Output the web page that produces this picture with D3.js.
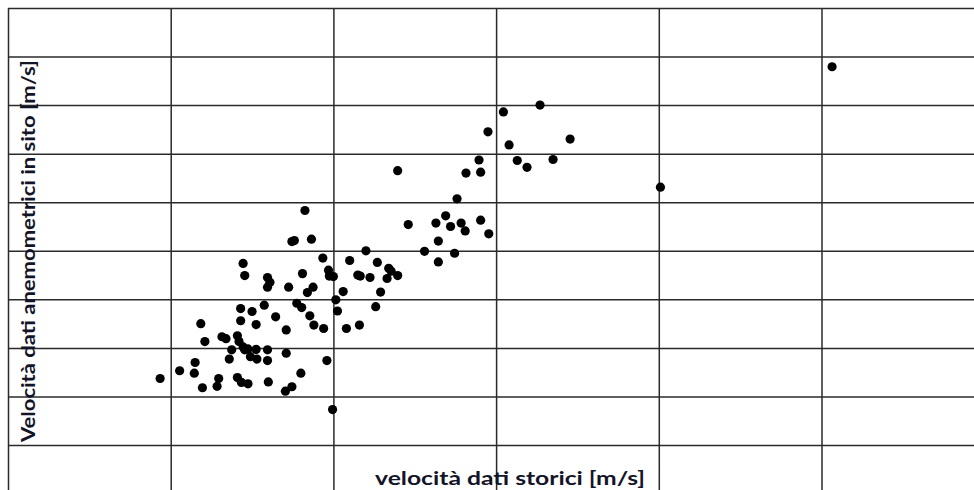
<!DOCTYPE html>
<html>
<head>
  <meta charset='utf-8'>
  <title>Velocità dati storici vs anemometrici</title>
  <script src="https://cdnjs.cloudflare.com/ajax/libs/d3/7.8.5/d3.min.js"></script>
  <style>
    html, body {
      margin: 0;
      padding: 0;
      background: #fff;
    }
    .label {
      font-family: 'Lato', 'Open Sans', sans-serif;
      font-weight: bold;
      fill: #141428;
    }
  </style>
</head>
<body>
  <svg id="chart"></svg>
  <script>
    // values (m/s)
    const storici = [
      1.87, 2.11, 2.30, 2.29, 2.39, 2.37, 2.42, 2.57, 2.59, 2.63,
      2.68, 2.72, 2.75, 2.82, 2.84, 2.89, 2.91, 2.95, 2.98, 3.05,
      3.06, 3.19, 3.19, 2.82, 2.87, 2.95, 3.20, 3.41, 3.49, 3.42,
      3.60, 3.92, 3.99, 2.86, 3.00, 3.15, 3.29, 2.86, 3.05, 3.42,
      2.89, 2.91, 3.19, 3.22, 3.19, 3.45, 3.65, 3.49, 3.52, 3.73,
      3.87, 3.62, 3.94, 3.95, 4.00, 3.68, 3.75, 3.55, 3.61, 3.71,
      3.76, 3.88, 4.03, 4.05, 4.12, 4.16, 4.32, 4.20, 4.40, 4.30,
      4.33, 4.45, 4.54, 4.68, 4.71, 4.66, 4.79, 4.58, 4.52, 4.79,
      4.92, 5.12, 5.26, 5.29, 5.29, 5.38, 5.44, 5.49, 5.52, 5.57,
      5.62, 5.63, 5.79, 5.81, 5.81, 5.90, 5.91, 6.09, 6.54, 6.16,
      6.26, 6.38, 6.70, 6.91, 8.02, 10.13
    ];
    const inSito = [
      2.37, 2.53, 2.70, 2.48, 2.18, 3.50, 3.13, 2.21, 2.37, 3.23,
      3.19, 2.77, 2.96, 3.25, 3.13, 3.02, 2.96, 2.98, 2.82, 2.97,
      2.77, 2.96, 2.74, 2.39, 2.29, 2.26, 2.30, 2.11, 2.20, 2.89,
      2.48, 2.74, 1.73, 3.81, 3.75, 3.88, 3.64, 3.56, 3.48, 3.37,
      4.74, 4.49, 4.45, 4.35, 4.25, 4.25, 5.83, 5.19, 5.21, 5.24,
      4.85, 4.53, 4.60, 4.48, 4.47, 4.14, 4.25, 3.92, 3.83, 3.66,
      3.47, 3.40, 3.99, 3.76, 4.16, 3.40, 3.47, 4.80, 5.00, 4.50,
      4.48, 4.45, 4.76, 4.64, 4.58, 4.43, 4.49, 4.15, 3.85, 6.65,
      5.54, 4.99, 5.57, 5.20, 4.77, 5.72, 5.50, 4.95, 6.07, 5.57,
      5.41, 6.60, 6.87, 6.62, 5.63, 7.45, 5.35, 7.86, 8.00, 7.18,
      6.86, 6.72, 6.88, 7.30, 6.31, 8.79
    ];
    const xGrid = [0, 2, 4, 6, 8, 10];
    const yGrid = [1, 2, 3, 4, 5, 6, 7, 8, 9, 10];
    const xTitle = "velocità dati storici [m/s]";
    const yTitle = "Velocità dati anemometrici in sito [m/s]";

    const width = 974;
    const height = 490;
    const marginLeft = 8;
    const marginTop = 8;

    const svg = d3.select('#chart')
      .attr('width', width)
      .attr('height', height);

    const x = d3.scaleLinear().domain([0, 10]).range([marginLeft, 821.5]);
    const y = d3.scaleLinear().domain([0, 10]).range([493.6, marginTop]);

    //grid lines through the axes
    svg.append('g')
      .attr('transform', `translate(0,${marginTop})`)
      .call(d3.axisBottom(x).tickValues(xGrid).tickSize(height - marginTop).tickFormat(''));
    svg.append('g')
      .attr('transform', `translate(${marginLeft},0)`)
      .call(d3.axisRight(y).tickValues(yGrid).tickSize(width - marginLeft).tickFormat(''));
    svg.selectAll('.domain').remove();
    svg.selectAll('.tick line')
      .attr('stroke', '#2a2a2a')
      .attr('stroke-width', 1.5);

    const points = storici.map((v, i) => ({ x: v, y: inSito[i] }));
    svg.append('g')
      .selectAll('circle')
      .data(points)
      .join('circle')
      .attr('cx', d => x(d.x))
      .attr('cy', d => y(d.y))
      .attr('r', 4.6)
      .attr('fill', '#000');

    // the original font is wider than Lato, so stretch to its measured length
    svg.append('text')
      .attr('class', 'label')
      .attr('x', 510)
      .attr('y', 485)
      .attr('text-anchor', 'middle')
      .attr('textLength', 270)
      .attr('lengthAdjust', 'spacingAndGlyphs')
      .style('font-size', '18.5px')
      .text(xTitle);

    svg.append('text')
      .attr('class', 'label')
      .attr('transform', 'translate(35,251) rotate(-90)')
      .attr('text-anchor', 'middle')
      .attr('textLength', 382)
      .attr('lengthAdjust', 'spacingAndGlyphs')
      .style('font-size', '18.5px')
      .text(yTitle);
  </script>
</body>
</html>
